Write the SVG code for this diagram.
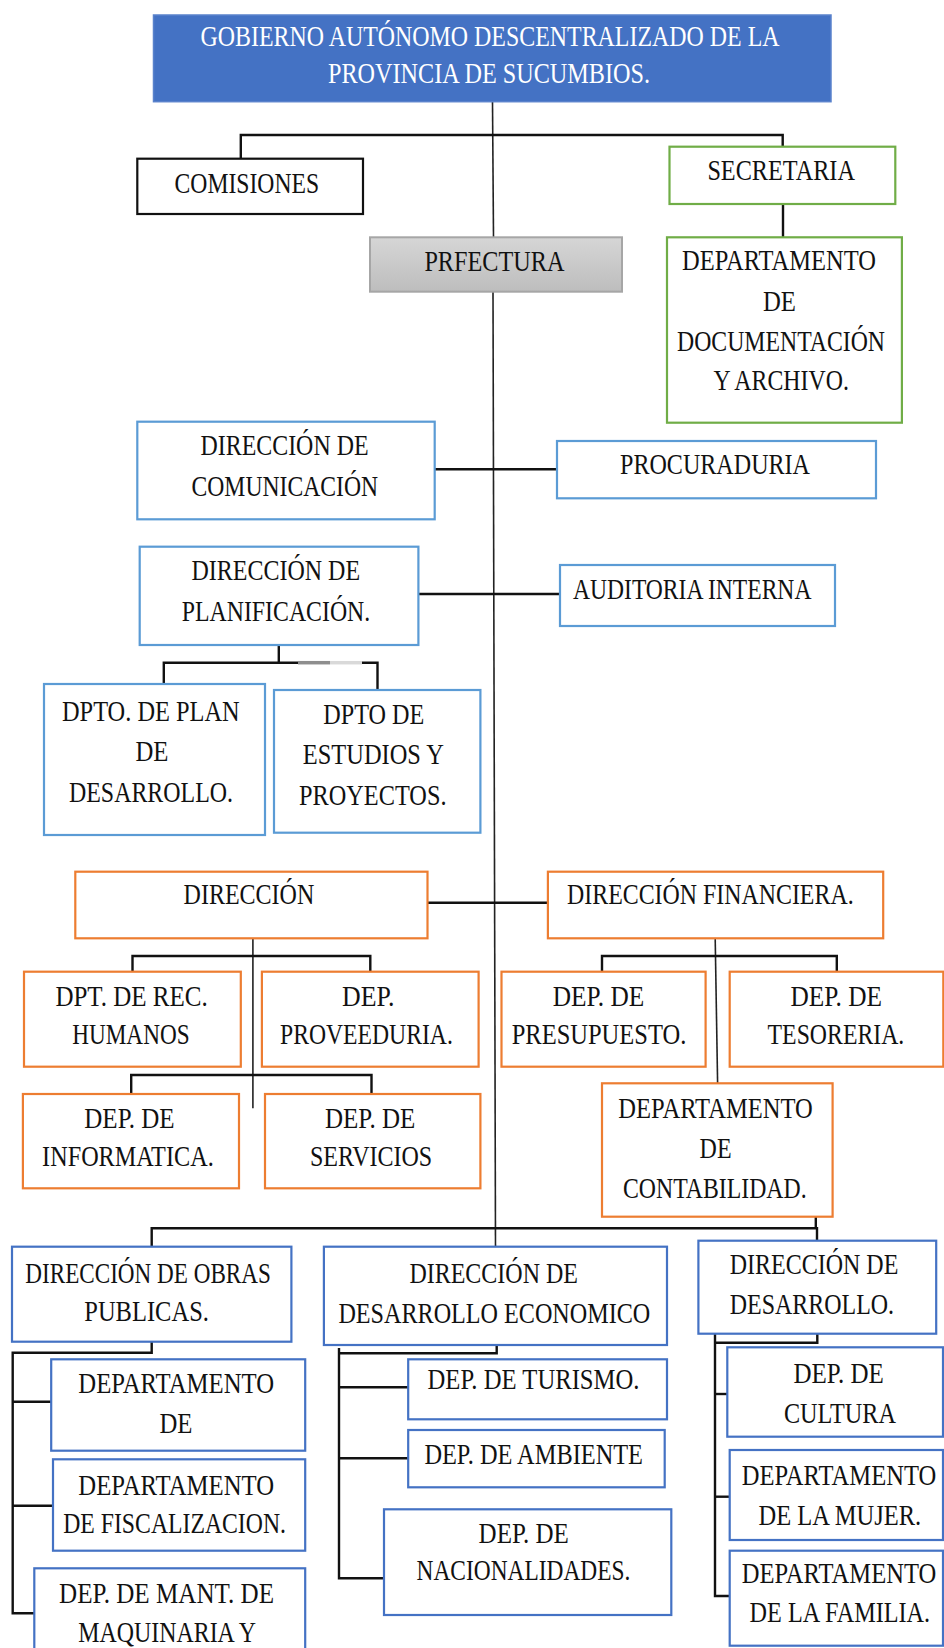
<svg xmlns="http://www.w3.org/2000/svg" width="944" height="1648" viewBox="0 0 944 1648">
<style>
text{font-family:"Liberation Serif","Times New Roman",serif;font-size:29px;fill:#111}
.w{fill:#fff}
.bx{fill:#fff;stroke-width:2.2}
.lb{stroke:#5B9BD5}
.db{stroke:#4472C4}
.gr{stroke:#70AD47}
.or{stroke:#ED7D31}
.bk{stroke:#111}
.c{fill:none;stroke:#111;stroke-width:2.4}
.cm{fill:none;stroke:#222;stroke-width:1.6}
</style>
<defs>
<linearGradient id="gg" x1="0" y1="0" x2="0" y2="1"><stop offset="0" stop-color="#d6d6d6"/><stop offset="1" stop-color="#bdbdbd"/></linearGradient>
</defs>
<g id="connectors">
<path class="cm" d="M492.5 101.7 L493.5 237.3"/>
<path class="cm" d="M493 291.7 L495.5 1246.7"/>
<path class="c" d="M240.8 158.7 V135 H782.7 V146.7"/>
<path class="c" d="M783 204 V237.3"/>
<path class="c" d="M434.7 469.3 H557"/>
<path class="c" d="M418.4 594 H560"/>
<path class="c" d="M278.8 645 V662.7"/>
<path class="c" d="M163.8 684 V662.7 H298"/>
<path class="c" d="M362 662.7 H377.5 V690"/>
<path d="M298 662.7 H330" stroke="#8e8e8e" stroke-width="3.5"/>
<path d="M330 662.7 H362" stroke="#d9d9d9" stroke-width="3.5"/>
<path class="c" d="M427.5 902.7 H547.9"/>
<path class="cm" d="M252.9 938.3 V1108.3"/>
<path class="c" d="M132.5 971.7 V956 H370.3 V971.7"/>
<path class="c" d="M131.2 1094 V1075 H371.5 V1094"/>
<path class="cm" d="M715.2 938.3 L717.6 1083.3"/>
<path class="c" d="M602 971.7 V956 H836.8 V971.7"/>
<path class="c" d="M815.8 1216.7 V1228.3"/>
<path class="c" d="M151.7 1246.7 V1228.3 H817 V1240.7"/>
<path class="c" d="M151.7 1341.7 V1352.7 H12.7 V1613.3 H34.3"/>
<path class="c" d="M12.7 1401.7 H51.2"/>
<path class="c" d="M12.7 1505.7 H53"/>
<path class="c" d="M496.7 1345 V1353.3 H339"/>
<path class="c" d="M339 1348 V1578.3 H384"/>
<path class="c" d="M339 1387.3 H408.2"/>
<path class="c" d="M339 1458.3 H408.2"/>
<path class="c" d="M817.3 1333.3 V1342.7 H715"/>
<path class="c" d="M715 1328.3 V1596 H729.7"/>
<path class="c" d="M715 1394 H727.3"/>
<path class="c" d="M715 1496.7 H729.7"/>
</g>
<g id="gobierno">
<rect x="153.5" y="15" width="677.5" height="86.7" fill="#4472C4" stroke="#5a82cc" stroke-width="1.5"/>
<text class="w" x="200.5" y="46" textLength="579" lengthAdjust="spacingAndGlyphs">GOBIERNO AUTÓNOMO DESCENTRALIZADO DE LA</text>
<text class="w" x="328" y="83" textLength="322" lengthAdjust="spacingAndGlyphs">PROVINCIA DE SUCUMBIOS.</text>
</g>
<g id="comisiones">
<rect class="bx bk" x="137.3" y="158.7" width="225.7" height="55.3"/>
<text x="174.6" y="193" textLength="144.5" lengthAdjust="spacingAndGlyphs">COMISIONES</text>
</g>
<g id="secretaria">
<rect class="bx gr" x="669.5" y="146.7" width="225.8" height="57.3"/>
<text x="707.4" y="180" textLength="147.5" lengthAdjust="spacingAndGlyphs">SECRETARIA</text>
</g>
<g id="prefectura">
<rect x="370" y="237.3" width="252" height="54.4" fill="url(#gg)" stroke="#a6a6a6" stroke-width="2"/>
<text x="424.4" y="271" textLength="140" lengthAdjust="spacingAndGlyphs">PRFECTURA</text>
</g>
<g id="dep-documentacion">
<rect class="bx gr" x="667" y="237.3" width="234.9" height="185.4"/>
<text x="682" y="270" textLength="194" lengthAdjust="spacingAndGlyphs">DEPARTAMENTO</text>
<text x="763" y="311" textLength="33" lengthAdjust="spacingAndGlyphs">DE</text>
<text x="677" y="351" textLength="208" lengthAdjust="spacingAndGlyphs">DOCUMENTACIÓN</text>
<text x="713.4" y="390" textLength="135.5" lengthAdjust="spacingAndGlyphs">Y ARCHIVO.</text>
</g>
<g id="dir-comunicacion">
<rect class="bx lb" x="137.3" y="421.7" width="297.4" height="97.6"/>
<text x="200.5" y="455" textLength="168" lengthAdjust="spacingAndGlyphs">DIRECCIÓN DE</text>
<text x="191.5" y="496" textLength="186.6" lengthAdjust="spacingAndGlyphs">COMUNICACIÓN</text>
</g>
<g id="procuraduria">
<rect class="bx lb" x="557" y="441" width="319" height="57.3"/>
<text x="620" y="474" textLength="190" lengthAdjust="spacingAndGlyphs">PROCURADURIA</text>
</g>
<g id="dir-planificacion">
<rect class="bx lb" x="139.7" y="546.7" width="278.7" height="98.3"/>
<text x="191.5" y="580" textLength="168.6" lengthAdjust="spacingAndGlyphs">DIRECCIÓN DE</text>
<text x="181.8" y="621" textLength="188.4" lengthAdjust="spacingAndGlyphs">PLANIFICACIÓN.</text>
</g>
<g id="auditoria">
<rect class="bx lb" x="560" y="565" width="275" height="61"/>
<text x="573" y="599" textLength="238.4" lengthAdjust="spacingAndGlyphs">AUDITORIA INTERNA</text>
</g>
<g id="dpto-plan">
<rect class="bx lb" x="44" y="684" width="221" height="151"/>
<text x="62" y="721" textLength="177.6" lengthAdjust="spacingAndGlyphs">DPTO. DE PLAN</text>
<text x="135.5" y="761" textLength="33" lengthAdjust="spacingAndGlyphs">DE</text>
<text x="69" y="802" textLength="164" lengthAdjust="spacingAndGlyphs">DESARROLLO.</text>
</g>
<g id="dpto-estudios">
<rect class="bx lb" x="274" y="690" width="206.4" height="142.7"/>
<text x="323.3" y="724" textLength="101" lengthAdjust="spacingAndGlyphs">DPTO DE</text>
<text x="302.8" y="764" textLength="141" lengthAdjust="spacingAndGlyphs">ESTUDIOS Y</text>
<text x="299" y="805" textLength="147.5" lengthAdjust="spacingAndGlyphs">PROYECTOS.</text>
</g>
<g id="direccion">
<rect class="bx or" x="75.3" y="871.7" width="352.2" height="66.6"/>
<text x="183.6" y="904" textLength="130.7" lengthAdjust="spacingAndGlyphs">DIRECCIÓN</text>
</g>
<g id="dir-financiera">
<rect class="bx or" x="547.9" y="871.7" width="335.3" height="66.6"/>
<text x="567" y="904" textLength="286.6" lengthAdjust="spacingAndGlyphs">DIRECCIÓN FINANCIERA.</text>
</g>
<g id="dpt-rec-humanos">
<rect class="bx or" x="24" y="971.7" width="216.8" height="95"/>
<text x="55.4" y="1006" textLength="152.3" lengthAdjust="spacingAndGlyphs">DPT. DE REC.</text>
<text x="72.2" y="1044" textLength="117.4" lengthAdjust="spacingAndGlyphs">HUMANOS</text>
</g>
<g id="dep-proveeduria">
<rect class="bx or" x="261.9" y="971.7" width="216.7" height="95"/>
<text x="342" y="1006" textLength="52.4" lengthAdjust="spacingAndGlyphs">DEP.</text>
<text x="280" y="1044" textLength="172.8" lengthAdjust="spacingAndGlyphs">PROVEEDURIA.</text>
</g>
<g id="dep-presupuesto">
<rect class="bx or" x="501.5" y="971.7" width="204.1" height="95"/>
<text x="552.7" y="1006" textLength="91.5" lengthAdjust="spacingAndGlyphs">DEP. DE</text>
<text x="511.7" y="1044" textLength="174.6" lengthAdjust="spacingAndGlyphs">PRESUPUESTO.</text>
</g>
<g id="dep-tesoreria">
<rect class="bx or" x="729.7" y="971.7" width="213.6" height="95"/>
<text x="790.5" y="1006" textLength="91.5" lengthAdjust="spacingAndGlyphs">DEP. DE</text>
<text x="767.6" y="1044" textLength="136.7" lengthAdjust="spacingAndGlyphs">TESORERIA.</text>
</g>
<g id="dep-informatica">
<rect class="bx or" x="22.9" y="1094" width="216.1" height="94.3"/>
<text x="84.3" y="1128" textLength="90.3" lengthAdjust="spacingAndGlyphs">DEP. DE</text>
<text x="42.1" y="1166" textLength="171.6" lengthAdjust="spacingAndGlyphs">INFORMATICA.</text>
</g>
<g id="dep-servicios">
<rect class="bx or" x="265" y="1094" width="215.4" height="94.3"/>
<text x="325" y="1128" textLength="90.3" lengthAdjust="spacingAndGlyphs">DEP. DE</text>
<text x="310" y="1166" textLength="122.2" lengthAdjust="spacingAndGlyphs">SERVICIOS</text>
</g>
<g id="dep-contabilidad">
<rect class="bx or" x="602" y="1083.3" width="230.6" height="133.4"/>
<text x="618.3" y="1118" textLength="194.5" lengthAdjust="spacingAndGlyphs">DEPARTAMENTO</text>
<text x="699.6" y="1158" textLength="32" lengthAdjust="spacingAndGlyphs">DE</text>
<text x="623" y="1198" textLength="183.6" lengthAdjust="spacingAndGlyphs">CONTABILIDAD.</text>
</g>
<g id="dir-obras">
<rect class="bx db" x="12" y="1246.7" width="279.4" height="95"/>
<text x="25.3" y="1283" textLength="245.6" lengthAdjust="spacingAndGlyphs">DIRECCIÓN DE OBRAS</text>
<text x="84.3" y="1321" textLength="124.6" lengthAdjust="spacingAndGlyphs">PUBLICAS.</text>
</g>
<g id="dir-economico">
<rect class="bx db" x="323.9" y="1246.7" width="343.1" height="98.3"/>
<text x="409.4" y="1283" textLength="168.6" lengthAdjust="spacingAndGlyphs">DIRECCIÓN DE</text>
<text x="338.4" y="1323" textLength="311.9" lengthAdjust="spacingAndGlyphs">DESARROLLO ECONOMICO</text>
</g>
<g id="dir-desarrollo">
<rect class="bx db" x="698.4" y="1240.7" width="237.8" height="93"/>
<text x="729.7" y="1274" textLength="168.6" lengthAdjust="spacingAndGlyphs">DIRECCIÓN DE</text>
<text x="729.7" y="1314" textLength="164.4" lengthAdjust="spacingAndGlyphs">DESARROLLO.</text>
</g>
<g id="departamento-de">
<rect class="bx db" x="51.2" y="1359.3" width="254" height="91.4"/>
<text x="78.3" y="1393" textLength="195.7" lengthAdjust="spacingAndGlyphs">DEPARTAMENTO</text>
<text x="159.5" y="1433" textLength="33" lengthAdjust="spacingAndGlyphs">DE</text>
</g>
<g id="dep-fiscalizacion">
<rect class="bx db" x="53" y="1459.3" width="252.2" height="91.4"/>
<text x="78.3" y="1495" textLength="195.7" lengthAdjust="spacingAndGlyphs">DEPARTAMENTO</text>
<text x="63.2" y="1533" textLength="222.8" lengthAdjust="spacingAndGlyphs">DE FISCALIZACION.</text>
</g>
<g id="dep-maquinaria">
<rect class="bx db" x="34.3" y="1568.3" width="270.9" height="95"/>
<text x="59" y="1603" textLength="215" lengthAdjust="spacingAndGlyphs">DEP. DE MANT. DE</text>
<text x="78.3" y="1642" textLength="177.6" lengthAdjust="spacingAndGlyphs">MAQUINARIA Y</text>
</g>
<g id="dep-turismo">
<rect class="bx db" x="408.2" y="1359.3" width="258.8" height="60"/>
<text x="427.5" y="1389" textLength="212" lengthAdjust="spacingAndGlyphs">DEP. DE TURISMO.</text>
</g>
<g id="dep-ambiente">
<rect class="bx db" x="408.2" y="1430" width="256.5" height="57.3"/>
<text x="424.4" y="1464" textLength="218.6" lengthAdjust="spacingAndGlyphs">DEP. DE AMBIENTE</text>
</g>
<g id="dep-nacionalidades">
<rect class="bx db" x="384" y="1509.3" width="287.3" height="105.7"/>
<text x="478.6" y="1543" textLength="90.3" lengthAdjust="spacingAndGlyphs">DEP. DE</text>
<text x="416.6" y="1580" textLength="213.7" lengthAdjust="spacingAndGlyphs">NACIONALIDADES.</text>
</g>
<g id="dep-cultura">
<rect class="bx db" x="727.3" y="1347.3" width="215.7" height="89.4"/>
<text x="793.5" y="1383" textLength="90.3" lengthAdjust="spacingAndGlyphs">DEP. DE</text>
<text x="783.9" y="1423" textLength="112" lengthAdjust="spacingAndGlyphs">CULTURA</text>
</g>
<g id="dep-mujer">
<rect class="bx db" x="729.7" y="1450" width="213.3" height="90"/>
<text transform="translate(741.7 1485) scale(0.82 1)" x="0" y="0" textLength="237.2" lengthAdjust="spacingAndGlyphs">DEPARTAMENTO</text>
<text transform="translate(758.6 1525) scale(0.84 1)" x="0" y="0" textLength="193.5" lengthAdjust="spacingAndGlyphs">DE LA MUJER.</text>
</g>
<g id="dep-familia">
<rect class="bx db" x="729.7" y="1550.7" width="213.3" height="95"/>
<text transform="translate(741.7 1583) scale(0.82 1)" x="0" y="0" textLength="237.2" lengthAdjust="spacingAndGlyphs">DEPARTAMENTO</text>
<text transform="translate(749.6 1622) scale(0.82 1)" x="0" y="0" textLength="220.2" lengthAdjust="spacingAndGlyphs">DE LA FAMILIA.</text>
</g>
</svg>
